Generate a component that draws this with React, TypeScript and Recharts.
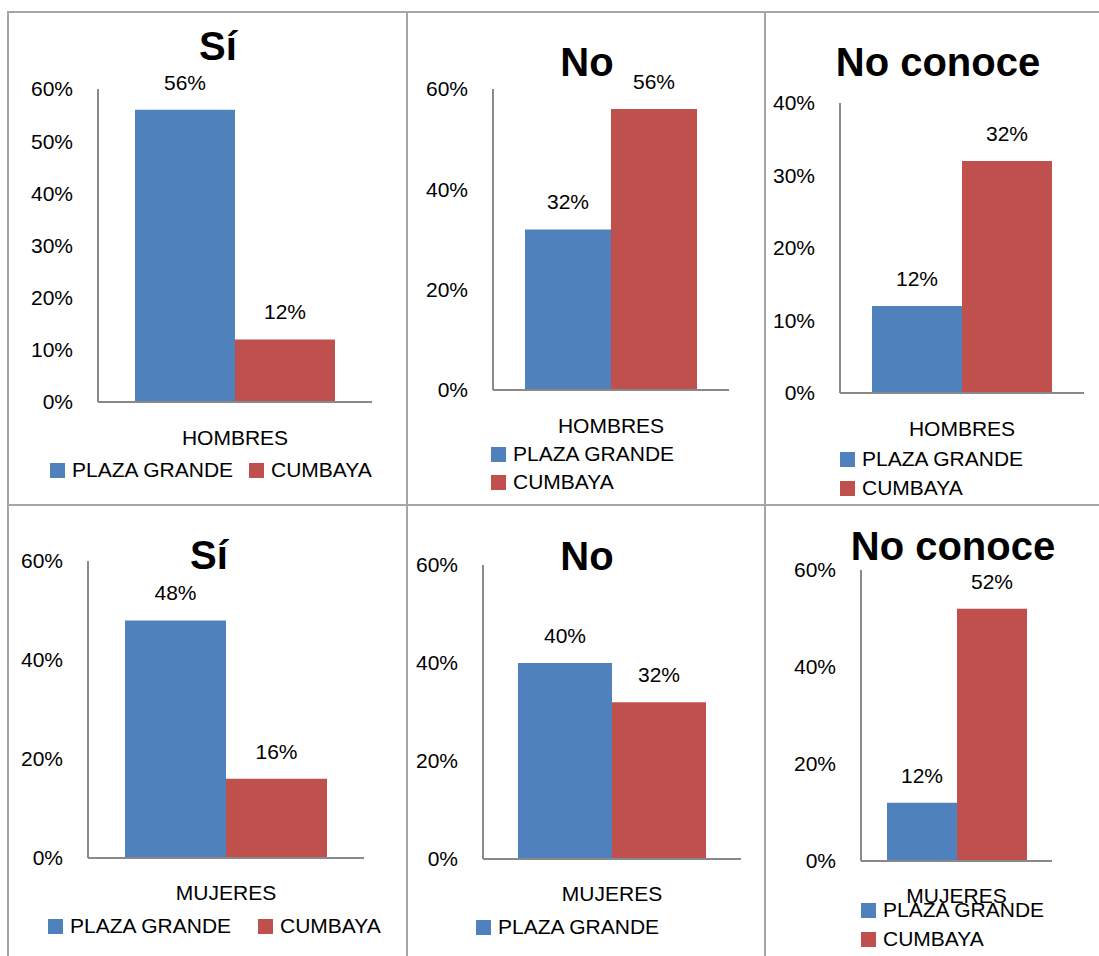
import { Bar, BarChart, LabelList, Legend, XAxis, YAxis } from "recharts";

// answers shown across the top of each column
const titles = ["Sí", "No", "No conoce"];
const groups = ["HOMBRES", "MUJERES"];
const seriesNames = ["PLAZA GRANDE", "CUMBAYA"];

// percentages per answer (Sí, No, No conoce)
const plazaGrandeHombres = [56, 32, 12];
const cumbayaHombres = [12, 56, 32];
const plazaGrandeMujeres = [48, 40, 12];
const cumbayaMujeres = [16, 32, 52];

const hombresTicks = [
  [0, 10, 20, 30, 40, 50, 60],
  [0, 20, 40, 60],
  [0, 10, 20, 30, 40],
];
const mujeresTicks = [
  [0, 20, 40, 60],
  [0, 20, 40, 60],
  [0, 20, 40, 60],
];

const COLORS = ["#4F81BD", "#C0504D"];
const FONT = '"Liberation Sans", Arial, sans-serif';
const AXIS = "#898989";
const RULE = "#A6A6A6";
const FS = 21;
const XH = 40;

type Layout = {
  cell: [number, number, number, number]; // left, top, width, height
  plot: [number, number, number, number]; // x0, y0, x1, y1 (page coords)
  titleAt: [number, number];
  barSize: number;
  legendAt: [number, number];
  row: boolean;
  pitch: number;
  tickMargin: number;
  legendClip?: number;
};

const layouts: Layout[] = [
  { cell: [8, 12, 399, 493], plot: [98, 89, 372, 402], titleAt: [218, 46], barSize: 100, legendAt: [50, 470], row: true, pitch: 199, tickMargin: 22 },
  { cell: [407, 12, 358, 493], plot: [493, 89, 729, 390], titleAt: [587, 62], barSize: 86, legendAt: [491, 454], row: false, pitch: 28, tickMargin: 22 },
  { cell: [765, 12, 334, 493], plot: [840, 103, 1084, 393], titleAt: [938, 62], barSize: 90, legendAt: [840, 459], row: false, pitch: 29, tickMargin: 22 },
  { cell: [8, 505, 399, 451], plot: [88, 561, 364, 858], titleAt: [209, 555], barSize: 101, legendAt: [48, 926], row: true, pitch: 210, tickMargin: 21 },
  // the cell ends below the page, only the first legend row fits
  { cell: [407, 505, 358, 451], plot: [483, 565, 741, 859], titleAt: [587, 556], barSize: 94, legendAt: [476, 927], row: false, pitch: 29, tickMargin: 21, legendClip: 29 },
  { cell: [765, 505, 334, 451], plot: [861, 570, 1052, 861], titleAt: [953, 546], barSize: 70, legendAt: [861, 910], row: false, pitch: 29, tickMargin: 21 },
];

const pct = (v: any) => `${v}%`;

function LegendBox({ payload, row, pitch }: any) {
  // keep series order instead of the legend's alphabetical sort
  const items = [...(payload || [])].sort(
    (p: any, q: any) => seriesNames.indexOf(p.value) - seriesNames.indexOf(q.value)
  );
  return (
    <div
      style={{
        display: "flex",
        flexDirection: row ? "row" : "column",
        fontFamily: FONT,
        fontSize: FS,
        color: "#000",
        whiteSpace: "nowrap",
      }}
    >
      {items.map((entry: any) => (
        <div
          key={entry.value}
          style={{
            display: "flex",
            alignItems: "center",
            height: row ? 28 : pitch,
            width: row ? pitch : "auto",
            flex: "none",
          }}
        >
          <span style={{ width: 15, height: 15, background: entry.color, marginRight: 7, flex: "none" }} />
          <span>{entry.value}</span>
        </div>
      ))}
    </div>
  );
}

function Panel({ index }: { index: number }) {
  const col = index % 3;
  const r = Math.floor(index / 3);
  const L = layouts[index];
  const [cx, cy, cw, ch] = L.cell;
  const [x0, y0, x1, y1] = L.plot;
  const ticks = r === 0 ? hombresTicks[col] : mujeresTicks[col];
  const pg = r === 0 ? plazaGrandeHombres : plazaGrandeMujeres;
  const cb = r === 0 ? cumbayaHombres : cumbayaMujeres;
  const data = [{ group: groups[r], a: pg[col], b: cb[col] }];
  const legendTop = L.legendAt[1] - cy - (L.row ? 14 : L.pitch / 2);
  const clip = L.legendClip ? { height: L.legendClip, overflow: "hidden" } : {};

  return (
    <div style={{ position: "absolute", left: cx, top: cy }}>
      <BarChart
        width={cw}
        height={ch}
        data={data}
        barSize={L.barSize}
        barGap={0}
        margin={{ top: y0 - cy, right: cx + cw - x1, bottom: cy + ch - y1 - XH, left: 0 }}
      >
        <text
          x={L.titleAt[0] - cx}
          y={L.titleAt[1] - cy + 14}
          textAnchor="middle"
          fontSize={40}
          fontWeight="bold"
          fill="#000"
        >
          {titles[col]}
        </text>
        <XAxis
          dataKey="group"
          height={XH}
          tickLine={false}
          axisLine={{ stroke: AXIS, strokeWidth: 2 }}
          tick={{ fill: "#000", fontSize: FS }}
          tickMargin={L.tickMargin}
        />
        <YAxis
          width={x0 - cx}
          domain={[0, ticks[ticks.length - 1]]}
          ticks={ticks}
          interval={0}
          tickFormatter={pct}
          tickLine={false}
          axisLine={{ stroke: AXIS, strokeWidth: 2 }}
          tick={{ fill: "#000", fontSize: FS }}
          tickMargin={19}
        />
        <Legend
          layout="vertical"
          align="center"
          verticalAlign="middle"
          wrapperStyle={{ left: L.legendAt[0] - cx, top: legendTop, width: "auto", ...clip }}
          content={(props: any) => <LegendBox payload={props.payload} row={L.row} pitch={L.pitch} />}
        />
        <Bar dataKey="a" name={seriesNames[0]} fill={COLORS[0]} isAnimationActive={false}>
          <LabelList dataKey="a" position="top" offset={20} formatter={pct} fill="#000" fontSize={FS} />
        </Bar>
        <Bar dataKey="b" name={seriesNames[1]} fill={COLORS[1]} isAnimationActive={false}>
          <LabelList dataKey="b" position="top" offset={20} formatter={pct} fill="#000" fontSize={FS} />
        </Bar>
      </BarChart>
    </div>
  );
}

export default function App() {
  return (
    <div
      style={{
        position: "absolute",
        left: 0,
        top: 0,
        width: 1099,
        height: 956,
        overflow: "hidden",
        background: "#fff",
        fontFamily: FONT,
      }}
    >
      {layouts.map((_, i) => (
        <Panel key={i} index={i} />
      ))}
      {/* table rules around the six charts */}
      <div style={{ position: "absolute", left: 7, top: 11, width: 1092, height: 2, background: RULE }} />
      <div style={{ position: "absolute", left: 7, top: 11, width: 2, height: 945, background: RULE }} />
      <div style={{ position: "absolute", left: 406, top: 11, width: 2, height: 945, background: RULE }} />
      <div style={{ position: "absolute", left: 764, top: 11, width: 2, height: 945, background: RULE }} />
      <div style={{ position: "absolute", left: 7, top: 504, width: 1092, height: 2, background: RULE }} />
    </div>
  );
}
